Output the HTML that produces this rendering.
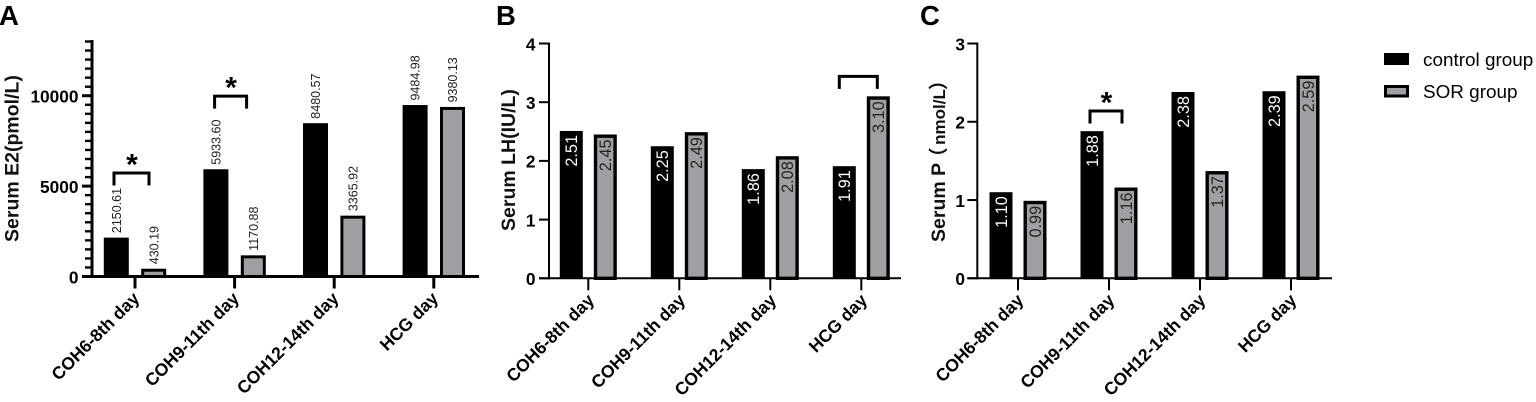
<!DOCTYPE html>
<html lang="en">
<head>
<meta charset="utf-8">
<title>Serum hormone levels</title>
<style>
html,body{margin:0;padding:0;background:#fff;width:1536px;height:402px;overflow:hidden}
svg{display:block}
text{font-family:"Liberation Sans","Noto Sans CJK SC",sans-serif}
</style>
</head>
<body>
<svg id="figure" xmlns="http://www.w3.org/2000/svg" width="1536" height="402" viewBox="0 0 1536 402">
  <text x="-1" y="25" font-size="27.5" font-weight="700" fill="#000">A</text>
  <text x="496" y="25" font-size="27.5" font-weight="700" fill="#000">B</text>
  <text x="920" y="25" font-size="27.5" font-weight="700" fill="#000">C</text>
  <g>
    <rect x="1384" y="53" width="25" height="12" fill="#000"></rect>
    <text x="1423" y="66" font-size="18.9" fill="#000">control group</text>
    <rect x="1385.5" y="86.5" width="22" height="9.5" fill="#a0a0a4" stroke="#000" stroke-width="3"></rect>
    <text x="1423" y="98" font-size="18.9" fill="#000">SOR group</text>
  </g>
</svg>
<script>
const categories = ['COH6-8th day', 'COH9-11th day', 'COH12-14th day', 'HCG day'];

const e2Control = [2150.61, 5933.60, 8480.57, 9484.98];
const e2Sor = [430.19, 1170.88, 3365.92, 9380.13];
const e2Ticks = [0, 5000, 10000];

const lhControl = [2.51, 2.25, 1.86, 1.91];
const lhSor = [2.45, 2.49, 2.08, 3.10];
const lhTicks = [0, 1, 2, 3, 4];

const pControl = [1.10, 1.88, 2.38, 2.39];
const pSor = [0.99, 1.16, 1.37, 2.59];
const pTicks = [0, 1, 2, 3];

const e2BracketCategories = [0, 1];
const e2BracketLevels = [5724, 9980];
const lhBracketCategories = [3];
const lhBracketLevels = [3.44];
const pBracketCategories = [1];
const pBracketLevels = [2.137];

const svg = document.getElementById('figure');
const NS = 'http://www.w3.org/2000/svg';

function add(parent, tag, attrs, text) {
  const el = document.createElementNS(NS, tag);
  for (const k in attrs) el.setAttribute(k, attrs[k]);
  if (text !== undefined) el.textContent = text;
  parent.appendChild(el);
  return el;
}

function drawPanel(p) {
  const group = add(svg, 'g', {});
  
  

  const yScale = v => p.y0 - (v / p.yMax) * (p.y0 - p.yTop);
  const xCenter = i => p.x0 + i * p.step;

  // bars
  categories.forEach((cat, i) => {
    const cx = xCenter(i);
    const blackTop = yScale(p.control[i]);
    const blackBar = add(group, 'rect', {
      x: cx - p.barOffset - p.barW / 2, y: blackTop,
      width: p.barW, height: p.y0 - blackTop, fill: '#000'
    });
    
    

    const greyTop = yScale(p.sor[i]);
    const greyBar = add(group, 'rect', {
      x: cx + p.barOffset - p.barW / 2 + p.greySw / 2, y: greyTop + p.greySw / 2,
      width: p.barW - p.greySw, height: Math.max(0, p.y0 - greyTop - p.greySw / 2),
      fill: '#a0a0a4', stroke: '#000', 'stroke-width': p.greySw
    });
    
    

    // value labels
    [[p.control[i], -p.barOffset, blackTop, '#fff'], [p.sor[i], p.barOffset, greyTop, '#222']].forEach((d, j) => {
      const lx = cx + d[1] + (p.inside ? 5.8 : 4.6);
      const ly = p.inside ? d[2] + 4 + (j ? 1 : 0) : d[2] - 4.5;
      const label = add(group, 'text', {
        transform: 'translate(' + lx + ',' + ly + ') rotate(-90)',
        'font-size': p.valueSize,
        'text-anchor': p.inside ? 'end' : 'start',
        fill: p.inside ? d[3] : '#222'
      }, d[0].toFixed(2));
      
      
    });

    // x ticks and labels
    const tick = add(group, 'line', {
      x1: cx, x2: cx, y1: p.y0, y2: p.y0 + 12, stroke: '#000', 'stroke-width': p.sw
    });
    
    

    const xLabel = add(group, 'text', {
      transform: 'translate(' + (cx + p.xLabelDx) + ',' + (p.y0 + 23) + ') rotate(-45)',
      'font-size': 17.5, 'font-weight': 700, 'text-anchor': 'end', fill: '#000'
    }, cat);
    
    
  });

  // minor y ticks
  if (p.minor) {
    for (let v = p.minor; v <= p.yMax + 1e-6; v += p.minor) {
      if (p.ticks.indexOf(v) !== -1) continue;
      const minor = add(group, 'line', {
        x1: p.axisX - 7, x2: p.axisX, y1: yScale(v), y2: yScale(v), stroke: '#000', 'stroke-width': 2.4
      });
      
      
    }
  }

  // major y ticks and labels
  p.ticks.forEach(v => {
    const y = yScale(v);
    const t = add(group, 'line', {
      x1: p.axisX - p.tickLen, x2: p.axisX, y1: y, y2: y, stroke: '#000', 'stroke-width': p.sw
    });
    
    
    const lab = add(group, 'text', {
      x: p.labelX, y: y + 6.8, 'font-size': 17.3, 'font-weight': 700, 'text-anchor': 'end', fill: '#000'
    }, String(v));
    
    
  });

  // axes
  const yAxis = add(group, 'line', {
    x1: p.axisX, x2: p.axisX, y1: p.yTop - p.sw / 2, y2: p.y0 + p.sw / 2, stroke: '#000', 'stroke-width': p.sw
  });
  
  

  const xAxis = add(group, 'line', {
    x1: p.axisX - p.tickLen, x2: p.xEnd, y1: p.y0, y2: p.y0, stroke: '#000', 'stroke-width': p.sw
  });
  
  

  // y title
  const title = add(group, 'text', {
    transform: 'translate(' + p.titleX + ',' + p.titleY + ') rotate(-90)',
    'font-size': 19.5, 'font-weight': 700, 'text-anchor': 'start', fill: '#111'
  });
  p.titleParts.forEach(part => {
    add(title, 'tspan', { dx: part.dx, 'font-size': part.size }, part.text);
  });
  
  

  // significance brackets
  p.bracketCats.forEach((c, i) => {
    const cx = xCenter(c);
    const top = yScale(p.bracketLevels[i]);
    const l = cx + p.bracketLeft[i];
    const r = cx + p.bracketRight[i];
    const b = add(group, 'path', {
      d: 'M' + l + ' ' + (top + 12.5) + 'V' + top + 'H' + r + 'V' + (top + 12.5),
      fill: 'none', stroke: '#000', 'stroke-width': 3
    });
    
    
    if (p.stars[i]) {
      const s = add(group, 'text', {
        x: (l + r) / 2 + 0.5, y: top + 1.5, 'font-size': 30, 'font-weight': 700, 'text-anchor': 'middle', fill: '#000'
      }, '*');
      
      
    }
  });
}

drawPanel({
  id: 'e2', titleParts: [{ text: 'Serum E2(pmol/L)', size: 19.5, dx: 0 }], titleX: 18.5, titleY: 242,
  control: e2Control, sor: e2Sor, ticks: e2Ticks, minor: 500, yMax: 13000,
  y0: 276.5, yTop: 41.5, axisX: 92, xEnd: 479, x0: 135, step: 99.6,
  barW: 25, barOffset: 18.7, sw: 3, greySw: 3, tickLen: 10, labelX: 78.5, xLabelDx: 5.5,
  inside: false, valueSize: 12.5,
  bracketCats: e2BracketCategories, bracketLevels: e2BracketLevels,
  bracketLeft: [-21, -20], bracketRight: [14, 12], stars: [true, true]
});

drawPanel({
  id: 'lh', titleParts: [{ text: 'Serum LH(IU/L)', size: 19.5, dx: 0 }], titleX: 515, titleY: 231,
  control: lhControl, sor: lhSor, ticks: lhTicks, minor: 0, yMax: 4,
  y0: 278.3, yTop: 43.5, axisX: 549, xEnd: 901, x0: 588.3, step: 91,
  barW: 23, barOffset: 17, sw: 2, greySw: 3.4, tickLen: 10, labelX: 535.5, xLabelDx: 7,
  inside: true, valueSize: 16.3,
  bracketCats: lhBracketCategories, bracketLevels: lhBracketLevels,
  bracketLeft: [-22], bracketRight: [16], stars: [false]
});

drawPanel({
  id: 'p',
  titleParts: [
    { text: 'Serum P', size: 19.5, dx: 0 },
    { text: '（', size: 19.5, dx: -4 },
    { text: 'nmol/L', size: 17, dx: 2.5 },
    { text: '）', size: 19.5, dx: -1 }
  ],
  titleX: 945, titleY: 242,
  control: pControl, sor: pSor, ticks: pTicks, minor: 0, yMax: 3,
  y0: 278.3, yTop: 43.5, axisX: 977.3, xEnd: 1332, x0: 1018, step: 91,
  barW: 23, barOffset: 17, sw: 2, greySw: 3.4, tickLen: 10, labelX: 965, xLabelDx: 6.5,
  inside: true, valueSize: 16.3,
  bracketCats: pBracketCategories, bracketLevels: pBracketLevels,
  bracketLeft: [-19], bracketRight: [13], stars: [true]
});
</script>
</body>
</html>
